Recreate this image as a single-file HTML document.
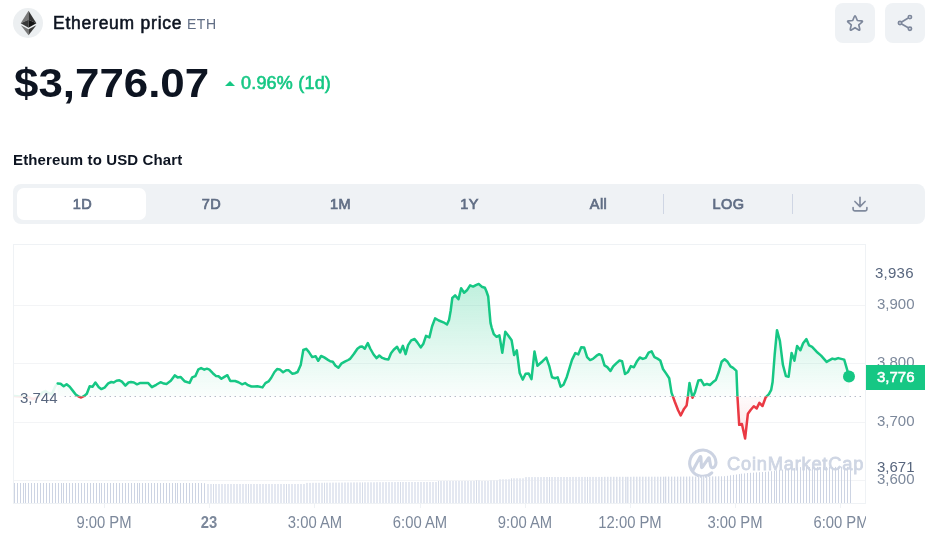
<!DOCTYPE html>
<html><head><meta charset="utf-8"><title>Ethereum price</title>
<style>
html,body{margin:0;padding:0;background:#fff;}
body{width:934px;height:535px;position:relative;overflow:hidden;font-family:"Liberation Sans",Arial,sans-serif;color:#0d1421;}
.abs{position:absolute;white-space:nowrap;line-height:1;will-change:transform;}
#ethc{left:12.8px;top:7.8px;width:30.4px;height:30.3px;border-radius:50%;background:#eceff1;}
#name{left:53px;top:15.3px;font-size:17.5px;font-weight:400;color:#0d1421;letter-spacing:0.76px;-webkit-text-stroke:0.55px #0d1421;}
#sym{left:186.8px;top:17px;font-size:14px;color:#616e85;letter-spacing:0.5px;}
.btn{top:3px;width:40px;height:40px;border-radius:8px;background:#eff2f5;}
#price{left:14.1px;top:63.4px;font-size:41px;font-weight:700;color:#0d1421;transform-origin:0 0;transform:scaleX(1.07);}
#chg{left:240.6px;top:74px;font-size:18px;font-weight:400;color:#16c784;letter-spacing:0.2px;-webkit-text-stroke:0.6px #16c784;}
#tri{left:224.6px;top:80.9px;width:0;height:0;border-left:5.3px solid transparent;border-right:5.3px solid transparent;border-bottom:5.8px solid #16c784;}
#ttl{left:13.3px;top:152.3px;font-size:15px;font-weight:700;color:#0d1421;letter-spacing:0.13px;}
#tabs{left:13px;top:184px;width:912px;height:40px;border-radius:8px;background:#eff2f5;}
#act{left:17px;top:188px;width:129px;height:32px;border-radius:7px;background:#fff;}
.tab{top:196.6px;width:129px;text-align:center;font-size:14.5px;font-weight:400;color:#616e85;-webkit-text-stroke:0.7px #616e85;letter-spacing:0.4px;margin-left:0.8px;}
.sep{top:194px;width:1px;height:20px;background:#cfd6e4;}
.ax{font-size:15px;color:#7c889b;}
.xl{top:516.4px;transform:scaleY(1.08);transform-origin:50% 50%;font-size:14.8px;color:#7c889b;width:80px;text-align:center;}
</style></head><body>
<div class="abs" id="ethc"></div>
<svg class="abs" style="left:13px;top:8px" width="30" height="30" viewBox="13 8 30 30">
<polygon points="28.5,10.8 20.7,23.3 28.5,19.7" fill="#787878"/>
<polygon points="28.5,10.8 36.4,23.3 28.5,19.7" fill="#343434"/>
<polygon points="20.7,23.3 28.5,19.7 28.5,27.8" fill="#393939"/>
<polygon points="36.4,23.3 28.5,19.7 28.5,27.8" fill="#141414"/>
<polygon points="20.9,25.2 28.5,29.3 28.5,35.3" fill="#787878"/>
<polygon points="36.3,25.2 28.5,29.3 28.5,35.3" fill="#3c3c3b"/>
</svg>
<div class="abs" id="name">Ethereum price</div>
<div class="abs" id="sym">ETH</div>
<div class="abs btn" style="left:835px"></div>
<div class="abs btn" style="left:885px"></div>
<svg class="abs" style="left:835px;top:3px" width="90" height="40" viewBox="835 3 90 40" fill="none" stroke="#7d879b" stroke-width="1.65" stroke-linejoin="round" stroke-linecap="round">
<path d="M854.16,16.98 Q855.03,14.85 855.90,16.98 L857.35,20.55 L861.20,20.83 Q863.49,21.00 861.74,22.48 L858.79,24.97 L859.71,28.72 Q860.26,30.95 858.31,29.74 L855.03,27.70 L851.75,29.74 Q849.80,30.95 850.35,28.72 L851.27,24.97 L848.32,22.48 Q846.57,21.00 848.86,20.83 L852.71,20.55 Z"/>
<circle cx="909.9" cy="17.1" r="1.65"/><circle cx="900" cy="23" r="1.65"/><circle cx="909.9" cy="28.75" r="1.65"/>
<path d="M902.06,21.77 L907.84,18.33 M902.08,24.2 L907.82,27.55"/>
</svg>
<div class="abs" id="price">$3,776.07</div>
<div class="abs" id="tri"></div>
<div class="abs" id="chg">0.96% (1d)</div>
<div class="abs" id="ttl">Ethereum to USD Chart</div>
<div class="abs" id="tabs"></div>
<div class="abs" id="act"></div>
<div class="abs tab" style="left:17px">1D</div>
<div class="abs tab" style="left:146px">7D</div>
<div class="abs tab" style="left:275px">1M</div>
<div class="abs tab" style="left:404px">1Y</div>
<div class="abs tab" style="left:533px">All</div>
<div class="abs tab" style="left:663px">LOG</div>
<div class="abs sep" style="left:663px"></div>
<div class="abs sep" style="left:792px"></div>
<svg class="abs" style="left:850px;top:194px" width="20" height="20" viewBox="850 194 20 20" fill="none" stroke="#808a9d" stroke-width="1.65" stroke-linecap="round" stroke-linejoin="round">
<path d="M860,197.2 V206.3 M854.9,201.5 L860,206.6 L865.1,201.5 M853.1,207.6 V209.2 Q853.1,210.8 854.7,210.8 H865.3 Q866.9,210.8 866.9,209.2 V207.6"/>
</svg>
<svg class="abs" style="left:0;top:240px" width="934" height="295" viewBox="0 240 934 295">
<defs>
<linearGradient id="gg" x1="0" y1="244" x2="0" y2="396.4" gradientUnits="userSpaceOnUse"><stop offset="0" stop-color="#16c784" stop-opacity="0.36"/><stop offset="1" stop-color="#16c784" stop-opacity="0.02"/></linearGradient>
<linearGradient id="rg" x1="0" y1="396.4" x2="0" y2="504" gradientUnits="userSpaceOnUse"><stop offset="0" stop-color="#ea3943" stop-opacity="0.02"/><stop offset="1" stop-color="#ea3943" stop-opacity="0.32"/></linearGradient>
<clipPath id="cu"><rect x="14" y="240" width="920" height="156.39999999999998"/></clipPath>
<clipPath id="cd"><rect x="14" y="396.4" width="920" height="140"/></clipPath>
</defs>
<g fill="#f3f4f6">
<rect x="13" y="305" width="853" height="1"/><rect x="13" y="363" width="853" height="1"/><rect x="13" y="422" width="853" height="1"/><rect x="13" y="480" width="853" height="1"/>
</g>
<rect x="13.5" y="244.5" width="852" height="259" fill="none" stroke="#eff2f5" stroke-width="1"/>
<g fill="#eff2f5"><rect x="104" y="504" width="1" height="4"/><rect x="209" y="504" width="1" height="4"/><rect x="314" y="504" width="1" height="4"/><rect x="420" y="504" width="1" height="4"/><rect x="525" y="504" width="1" height="4"/><rect x="630" y="504" width="1" height="4"/><rect x="735" y="504" width="1" height="4"/><rect x="840" y="504" width="1" height="4"/></g>
<g fill="none" stroke="#ccd3e2" stroke-width="3.1" stroke-linecap="round" stroke-linejoin="round" transform="translate(0,-0.3)">
<path d="M711.8,473.1 A13.16,13.16 0 1 1 715.97,462.8 C716,466 714,468.3 712.4,468 C711,467.7 710.6,466.5 710.4,465 L709.3,458.6 Q709.1,457.4 708.3,458.6 L702.4,467.4 Q701.5,468.6 701.4,467 L700.9,457.6 Q700.7,456.2 699.9,457.6 L693.1,470.3"/>
</g>
<text x="727" y="469.7" font-size="18.3px" font-weight="400" fill="#cfd6e4" stroke="#cfd6e4" stroke-width="0.8" textLength="136.3" lengthAdjust="spacing" font-family="Liberation Sans, Arial, sans-serif">CoinMarketCap</text>
<g><rect x="14" y="483.0" width="1" height="20.0" fill="#cdd4e3"/><rect x="17" y="483.0" width="1" height="20.0" fill="#cdd4e3"/><rect x="20" y="483.0" width="1" height="20.0" fill="#cdd4e3"/><rect x="23" y="483.0" width="1" height="20.0" fill="#cdd4e3"/><rect x="25" y="483.0" width="1" height="20.0" fill="#cdd4e3"/><rect x="28" y="483.0" width="1" height="20.0" fill="#cdd4e3"/><rect x="31" y="483.0" width="1" height="20.0" fill="#cdd4e3"/><rect x="34" y="483.0" width="1" height="20.0" fill="#cdd4e3"/><rect x="37" y="483.0" width="1" height="20.0" fill="#cdd4e3"/><rect x="40" y="483.0" width="1" height="20.0" fill="#cdd4e3"/><rect x="43" y="483.0" width="1" height="20.0" fill="#cdd4e3"/><rect x="46" y="483.0" width="1" height="20.0" fill="#cdd4e3"/><rect x="49" y="483.0" width="1" height="20.0" fill="#cdd4e3"/><rect x="52" y="483.0" width="1" height="20.0" fill="#cdd4e3"/><rect x="55" y="483.0" width="1" height="20.0" fill="#cdd4e3"/><rect x="58" y="483.0" width="1" height="20.0" fill="#cdd4e3"/><rect x="61" y="483.0" width="1" height="20.0" fill="#cdd4e3"/><rect x="63" y="483.0" width="1" height="20.0" fill="#cdd4e3"/><rect x="66" y="483.0" width="1" height="20.0" fill="#cdd4e3"/><rect x="69" y="483.0" width="1" height="20.0" fill="#cdd4e3"/><rect x="72" y="483.0" width="1" height="20.0" fill="#cdd4e3"/><rect x="75" y="483.0" width="1" height="20.0" fill="#cdd4e3"/><rect x="78" y="483.0" width="1" height="20.0" fill="#cdd4e3"/><rect x="81" y="483.0" width="1" height="20.0" fill="#cdd4e3"/><rect x="84" y="483.0" width="1" height="20.0" fill="#cdd4e3"/><rect x="87" y="483.0" width="1" height="20.0" fill="#cdd4e3"/><rect x="90" y="483.0" width="1" height="20.0" fill="#cdd4e3"/><rect x="93" y="483.0" width="1" height="20.0" fill="#cdd4e3"/><rect x="96" y="483.0" width="1" height="20.0" fill="#cdd4e3"/><rect x="99" y="483.0" width="1" height="20.0" fill="#cdd4e3"/><rect x="101" y="483.0" width="1" height="20.0" fill="#cdd4e3"/><rect x="104" y="483.0" width="1" height="20.0" fill="#cdd4e3"/><rect x="107" y="483.0" width="1" height="20.0" fill="#cdd4e3"/><rect x="110" y="483.0" width="1" height="20.0" fill="#cdd4e3"/><rect x="113" y="483.0" width="1" height="20.0" fill="#cdd4e3"/><rect x="116" y="483.0" width="1" height="20.0" fill="#cdd4e3"/><rect x="119" y="483.0" width="1" height="20.0" fill="#cdd4e3"/><rect x="122" y="483.0" width="1" height="20.0" fill="#cdd4e3"/><rect x="125" y="483.0" width="1" height="20.0" fill="#cdd4e3"/><rect x="128" y="483.0" width="1" height="20.0" fill="#cdd4e3"/><rect x="131" y="483.0" width="1" height="20.0" fill="#cdd4e3"/><rect x="134" y="483.0" width="1" height="20.0" fill="#cdd4e3"/><rect x="137" y="483.0" width="1" height="20.0" fill="#cdd4e3"/><rect x="139" y="483.0" width="1" height="20.0" fill="#cdd4e3"/><rect x="142" y="483.0" width="1" height="20.0" fill="#cdd4e3"/><rect x="145" y="483.0" width="1" height="20.0" fill="#cdd4e3"/><rect x="148" y="483.0" width="1" height="20.0" fill="#cdd4e3"/><rect x="151" y="483.0" width="1" height="20.0" fill="#cdd4e3"/><rect x="154" y="483.0" width="1" height="20.0" fill="#cdd4e3"/><rect x="157" y="483.0" width="1" height="20.0" fill="#cdd4e3"/><rect x="160" y="483.0" width="1" height="20.0" fill="#cdd4e3"/><rect x="163" y="483.0" width="1" height="20.0" fill="#cdd4e3"/><rect x="166" y="483.0" width="1" height="20.0" fill="#cdd4e3"/><rect x="169" y="483.0" width="1" height="20.0" fill="#cdd4e3"/><rect x="172" y="483.0" width="1" height="20.0" fill="#cdd4e3"/><rect x="175" y="483.0" width="1" height="20.0" fill="#cdd4e3"/><rect x="177" y="483.0" width="1" height="20.0" fill="#cdd4e3"/><rect x="180" y="483.0" width="1" height="20.0" fill="#cdd4e3"/><rect x="183" y="483.0" width="1" height="20.0" fill="#cdd4e3"/><rect x="186" y="483.0" width="1" height="20.0" fill="#cdd4e3"/><rect x="189" y="483.0" width="1" height="20.0" fill="#cdd4e3"/><rect x="192" y="483.0" width="1" height="20.0" fill="#cdd4e3"/><rect x="195" y="483.0" width="1" height="20.0" fill="#cdd4e3"/><rect x="198" y="483.0" width="1" height="20.0" fill="#cdd4e3"/><rect x="201" y="483.0" width="1" height="20.0" fill="#cdd4e3"/><rect x="204" y="483.2" width="1" height="19.8" fill="#cdd4e3"/><rect x="207" y="484.0" width="2" height="19.0" fill="#e4e8f1"/><rect x="210" y="484.0" width="2" height="19.0" fill="#e4e8f1"/><rect x="213" y="484.0" width="1" height="19.0" fill="#d6dce8"/><rect x="215" y="484.0" width="2" height="19.0" fill="#e4e8f1"/><rect x="218" y="484.0" width="2" height="19.0" fill="#e4e8f1"/><rect x="221" y="484.0" width="2" height="19.0" fill="#e4e8f1"/><rect x="224" y="484.0" width="2" height="19.0" fill="#e4e8f1"/><rect x="227" y="484.0" width="2" height="19.0" fill="#e4e8f1"/><rect x="230" y="484.0" width="2" height="19.0" fill="#e4e8f1"/><rect x="233" y="484.0" width="2" height="19.0" fill="#e4e8f1"/><rect x="236" y="484.0" width="2" height="19.0" fill="#e4e8f1"/><rect x="239" y="484.0" width="2" height="19.0" fill="#e4e8f1"/><rect x="242" y="484.0" width="2" height="19.0" fill="#e4e8f1"/><rect x="245" y="484.0" width="2" height="19.0" fill="#e4e8f1"/><rect x="248" y="484.0" width="1" height="19.0" fill="#d6dce8"/><rect x="250" y="484.0" width="2" height="19.0" fill="#e4e8f1"/><rect x="253" y="484.0" width="2" height="19.0" fill="#e4e8f1"/><rect x="256" y="484.0" width="2" height="19.0" fill="#e4e8f1"/><rect x="259" y="484.0" width="2" height="19.0" fill="#e4e8f1"/><rect x="262" y="484.0" width="2" height="19.0" fill="#e4e8f1"/><rect x="265" y="484.0" width="2" height="19.0" fill="#e4e8f1"/><rect x="268" y="484.0" width="2" height="19.0" fill="#e4e8f1"/><rect x="271" y="484.0" width="2" height="19.0" fill="#e4e8f1"/><rect x="274" y="484.0" width="2" height="19.0" fill="#e4e8f1"/><rect x="277" y="484.0" width="2" height="19.0" fill="#e4e8f1"/><rect x="280" y="484.0" width="2" height="19.0" fill="#e4e8f1"/><rect x="283" y="484.0" width="2" height="19.0" fill="#e4e8f1"/><rect x="286" y="484.0" width="1" height="19.0" fill="#d6dce8"/><rect x="288" y="484.0" width="2" height="19.0" fill="#e4e8f1"/><rect x="291" y="484.0" width="2" height="19.0" fill="#e4e8f1"/><rect x="294" y="484.0" width="2" height="19.0" fill="#e4e8f1"/><rect x="297" y="484.0" width="2" height="19.0" fill="#e4e8f1"/><rect x="300" y="484.0" width="2" height="19.0" fill="#e4e8f1"/><rect x="303" y="484.0" width="2" height="19.0" fill="#e4e8f1"/><rect x="306" y="482.9" width="2" height="20.1" fill="#e4e8f1"/><rect x="309" y="482.9" width="2" height="20.1" fill="#e4e8f1"/><rect x="312" y="482.8" width="2" height="20.2" fill="#e4e8f1"/><rect x="315" y="482.8" width="2" height="20.2" fill="#e4e8f1"/><rect x="318" y="482.8" width="2" height="20.2" fill="#e4e8f1"/><rect x="321" y="482.8" width="2" height="20.2" fill="#e4e8f1"/><rect x="324" y="482.7" width="1" height="20.3" fill="#d6dce8"/><rect x="326" y="482.7" width="2" height="20.3" fill="#e4e8f1"/><rect x="329" y="482.7" width="2" height="20.3" fill="#e4e8f1"/><rect x="332" y="482.6" width="2" height="20.4" fill="#e4e8f1"/><rect x="335" y="482.6" width="2" height="20.4" fill="#e4e8f1"/><rect x="338" y="482.6" width="2" height="20.4" fill="#e4e8f1"/><rect x="341" y="482.6" width="2" height="20.4" fill="#e4e8f1"/><rect x="344" y="482.5" width="2" height="20.5" fill="#e4e8f1"/><rect x="347" y="482.5" width="2" height="20.5" fill="#e4e8f1"/><rect x="350" y="482.5" width="2" height="20.5" fill="#e4e8f1"/><rect x="353" y="482.4" width="2" height="20.6" fill="#e4e8f1"/><rect x="356" y="482.4" width="2" height="20.6" fill="#e4e8f1"/><rect x="359" y="482.4" width="2" height="20.6" fill="#e4e8f1"/><rect x="362" y="482.4" width="1" height="20.6" fill="#d6dce8"/><rect x="364" y="482.3" width="2" height="20.7" fill="#e4e8f1"/><rect x="367" y="482.3" width="2" height="20.7" fill="#e4e8f1"/><rect x="370" y="482.3" width="2" height="20.7" fill="#e4e8f1"/><rect x="373" y="482.3" width="2" height="20.7" fill="#e4e8f1"/><rect x="376" y="482.2" width="2" height="20.8" fill="#e4e8f1"/><rect x="379" y="482.2" width="2" height="20.8" fill="#e4e8f1"/><rect x="382" y="482.2" width="2" height="20.8" fill="#e4e8f1"/><rect x="385" y="482.1" width="2" height="20.9" fill="#e4e8f1"/><rect x="388" y="482.1" width="2" height="20.9" fill="#e4e8f1"/><rect x="391" y="482.1" width="2" height="20.9" fill="#e4e8f1"/><rect x="394" y="482.1" width="2" height="20.9" fill="#e4e8f1"/><rect x="397" y="482.0" width="2" height="21.0" fill="#e4e8f1"/><rect x="400" y="482.0" width="1" height="21.0" fill="#d6dce8"/><rect x="402" y="482.0" width="2" height="21.0" fill="#e4e8f1"/><rect x="405" y="482.0" width="2" height="21.0" fill="#e4e8f1"/><rect x="408" y="482.0" width="2" height="21.0" fill="#e4e8f1"/><rect x="411" y="482.0" width="2" height="21.0" fill="#e4e8f1"/><rect x="414" y="482.0" width="2" height="21.0" fill="#e4e8f1"/><rect x="417" y="482.0" width="2" height="21.0" fill="#e4e8f1"/><rect x="420" y="482.0" width="2" height="21.0" fill="#e4e8f1"/><rect x="423" y="482.0" width="2" height="21.0" fill="#e4e8f1"/><rect x="426" y="482.0" width="2" height="21.0" fill="#e4e8f1"/><rect x="429" y="482.0" width="2" height="21.0" fill="#e4e8f1"/><rect x="432" y="482.0" width="2" height="21.0" fill="#e4e8f1"/><rect x="435" y="482.0" width="2" height="21.0" fill="#e4e8f1"/><rect x="438" y="481.0" width="1" height="22.0" fill="#d6dce8"/><rect x="440" y="481.0" width="2" height="22.0" fill="#e4e8f1"/><rect x="443" y="481.0" width="2" height="22.0" fill="#e4e8f1"/><rect x="446" y="481.0" width="2" height="22.0" fill="#e4e8f1"/><rect x="449" y="481.0" width="2" height="22.0" fill="#e4e8f1"/><rect x="452" y="481.0" width="2" height="22.0" fill="#e4e8f1"/><rect x="455" y="481.0" width="2" height="22.0" fill="#e4e8f1"/><rect x="458" y="481.0" width="2" height="22.0" fill="#e4e8f1"/><rect x="461" y="481.0" width="2" height="22.0" fill="#e4e8f1"/><rect x="464" y="481.0" width="2" height="22.0" fill="#e4e8f1"/><rect x="467" y="481.0" width="2" height="22.0" fill="#e4e8f1"/><rect x="470" y="481.0" width="2" height="22.0" fill="#e4e8f1"/><rect x="473" y="481.0" width="2" height="22.0" fill="#e4e8f1"/><rect x="476" y="480.3" width="1" height="22.7" fill="#d6dce8"/><rect x="478" y="480.3" width="2" height="22.7" fill="#e4e8f1"/><rect x="481" y="481.0" width="2" height="22.0" fill="#e4e8f1"/><rect x="484" y="481.0" width="2" height="22.0" fill="#e4e8f1"/><rect x="487" y="481.0" width="2" height="22.0" fill="#e4e8f1"/><rect x="490" y="480.3" width="2" height="22.7" fill="#e4e8f1"/><rect x="493" y="480.3" width="2" height="22.7" fill="#e4e8f1"/><rect x="496" y="480.3" width="2" height="22.7" fill="#e4e8f1"/><rect x="499" y="479.3" width="2" height="23.7" fill="#e4e8f1"/><rect x="502" y="479.3" width="2" height="23.7" fill="#e4e8f1"/><rect x="505" y="479.3" width="2" height="23.7" fill="#e4e8f1"/><rect x="508" y="479.3" width="2" height="23.7" fill="#e4e8f1"/><rect x="511" y="478.3" width="1" height="24.7" fill="#d6dce8"/><rect x="513" y="478.3" width="2" height="24.7" fill="#e4e8f1"/><rect x="516" y="478.3" width="2" height="24.7" fill="#e4e8f1"/><rect x="519" y="478.3" width="2" height="24.7" fill="#e4e8f1"/><rect x="522" y="478.3" width="2" height="24.7" fill="#e4e8f1"/><rect x="525" y="477.1" width="2" height="25.9" fill="#e4e8f1"/><rect x="528" y="477.1" width="2" height="25.9" fill="#e4e8f1"/><rect x="531" y="477.1" width="2" height="25.9" fill="#e4e8f1"/><rect x="534" y="477.1" width="2" height="25.9" fill="#e4e8f1"/><rect x="537" y="477.1" width="2" height="25.9" fill="#e4e8f1"/><rect x="540" y="477.1" width="2" height="25.9" fill="#e4e8f1"/><rect x="543" y="477.0" width="2" height="26.0" fill="#e4e8f1"/><rect x="546" y="477.0" width="2" height="26.0" fill="#e4e8f1"/><rect x="549" y="477.0" width="1" height="26.0" fill="#d6dce8"/><rect x="551" y="477.0" width="2" height="26.0" fill="#e4e8f1"/><rect x="554" y="477.0" width="2" height="26.0" fill="#e4e8f1"/><rect x="557" y="477.0" width="2" height="26.0" fill="#e4e8f1"/><rect x="560" y="477.0" width="2" height="26.0" fill="#e4e8f1"/><rect x="563" y="477.0" width="2" height="26.0" fill="#e4e8f1"/><rect x="566" y="477.0" width="2" height="26.0" fill="#e4e8f1"/><rect x="569" y="477.0" width="2" height="26.0" fill="#e4e8f1"/><rect x="572" y="476.9" width="2" height="26.1" fill="#e4e8f1"/><rect x="575" y="476.9" width="2" height="26.1" fill="#e4e8f1"/><rect x="578" y="476.9" width="2" height="26.1" fill="#e4e8f1"/><rect x="581" y="476.9" width="2" height="26.1" fill="#e4e8f1"/><rect x="584" y="476.9" width="2" height="26.1" fill="#e4e8f1"/><rect x="587" y="476.9" width="1" height="26.1" fill="#d6dce8"/><rect x="589" y="476.9" width="2" height="26.1" fill="#e4e8f1"/><rect x="592" y="476.9" width="2" height="26.1" fill="#e4e8f1"/><rect x="595" y="476.9" width="2" height="26.1" fill="#e4e8f1"/><rect x="598" y="476.9" width="2" height="26.1" fill="#e4e8f1"/><rect x="601" y="476.9" width="1" height="26.1" fill="#dbe0eb"/><rect x="602" y="476.9" width="1" height="26.1" fill="#ebeef4"/><rect x="604" y="476.8" width="1" height="26.2" fill="#dbe0eb"/><rect x="605" y="476.8" width="1" height="26.2" fill="#ebeef4"/><rect x="607" y="476.8" width="1" height="26.2" fill="#dbe0eb"/><rect x="608" y="476.8" width="1" height="26.2" fill="#ebeef4"/><rect x="610" y="476.8" width="1" height="26.2" fill="#dbe0eb"/><rect x="611" y="476.8" width="1" height="26.2" fill="#ebeef4"/><rect x="613" y="476.8" width="1" height="26.2" fill="#dbe0eb"/><rect x="614" y="476.8" width="1" height="26.2" fill="#ebeef4"/><rect x="616" y="476.8" width="1" height="26.2" fill="#dbe0eb"/><rect x="617" y="476.8" width="1" height="26.2" fill="#ebeef4"/><rect x="619" y="476.8" width="1" height="26.2" fill="#dbe0eb"/><rect x="620" y="476.8" width="1" height="26.2" fill="#ebeef4"/><rect x="622" y="476.8" width="1" height="26.2" fill="#dbe0eb"/><rect x="623" y="476.8" width="1" height="26.2" fill="#ebeef4"/><rect x="625" y="476.8" width="1" height="26.2" fill="#dbe0eb"/><rect x="626" y="476.8" width="1" height="26.2" fill="#ebeef4"/><rect x="627" y="476.8" width="1" height="26.2" fill="#dbe0eb"/><rect x="628" y="476.8" width="1" height="26.2" fill="#ebeef4"/><rect x="630" y="476.8" width="1" height="26.2" fill="#dbe0eb"/><rect x="631" y="476.8" width="1" height="26.2" fill="#ebeef4"/><rect x="633" y="476.7" width="1" height="26.3" fill="#dbe0eb"/><rect x="634" y="476.7" width="1" height="26.3" fill="#ebeef4"/><rect x="636" y="476.7" width="1" height="26.3" fill="#dbe0eb"/><rect x="637" y="476.7" width="1" height="26.3" fill="#ebeef4"/><rect x="639" y="476.7" width="1" height="26.3" fill="#dbe0eb"/><rect x="640" y="476.7" width="1" height="26.3" fill="#ebeef4"/><rect x="642" y="476.7" width="1" height="26.3" fill="#dbe0eb"/><rect x="643" y="476.7" width="1" height="26.3" fill="#ebeef4"/><rect x="645" y="476.7" width="1" height="26.3" fill="#dbe0eb"/><rect x="646" y="476.7" width="1" height="26.3" fill="#ebeef4"/><rect x="648" y="476.7" width="1" height="26.3" fill="#dbe0eb"/><rect x="649" y="476.7" width="1" height="26.3" fill="#ebeef4"/><rect x="651" y="476.7" width="1" height="26.3" fill="#dbe0eb"/><rect x="652" y="476.7" width="1" height="26.3" fill="#ebeef4"/><rect x="654" y="476.7" width="1" height="26.3" fill="#dbe0eb"/><rect x="655" y="476.7" width="1" height="26.3" fill="#ebeef4"/><rect x="657" y="476.7" width="1" height="26.3" fill="#dbe0eb"/><rect x="658" y="476.7" width="1" height="26.3" fill="#ebeef4"/><rect x="660" y="476.7" width="1" height="26.3" fill="#d3d9e6"/><rect x="661" y="476.7" width="1" height="26.3" fill="#f3f5f9"/><rect x="663" y="476.7" width="1" height="26.3" fill="#d3d9e6"/><rect x="664" y="476.7" width="1" height="26.3" fill="#f3f5f9"/><rect x="665" y="476.6" width="1" height="26.4" fill="#d3d9e6"/><rect x="666" y="476.6" width="1" height="26.4" fill="#f3f5f9"/><rect x="668" y="476.6" width="1" height="26.4" fill="#d3d9e6"/><rect x="669" y="476.6" width="1" height="26.4" fill="#f3f5f9"/><rect x="671" y="476.6" width="1" height="26.4" fill="#d3d9e6"/><rect x="672" y="476.6" width="1" height="26.4" fill="#f3f5f9"/><rect x="674" y="476.6" width="1" height="26.4" fill="#d3d9e6"/><rect x="675" y="476.6" width="1" height="26.4" fill="#f3f5f9"/><rect x="677" y="476.6" width="1" height="26.4" fill="#d3d9e6"/><rect x="678" y="476.6" width="1" height="26.4" fill="#f3f5f9"/><rect x="680" y="476.6" width="1" height="26.4" fill="#d3d9e6"/><rect x="681" y="476.6" width="1" height="26.4" fill="#f3f5f9"/><rect x="683" y="476.6" width="1" height="26.4" fill="#d3d9e6"/><rect x="684" y="476.6" width="1" height="26.4" fill="#f3f5f9"/><rect x="686" y="476.6" width="1" height="26.4" fill="#d3d9e6"/><rect x="687" y="476.6" width="1" height="26.4" fill="#f3f5f9"/><rect x="689" y="476.5" width="1" height="26.5" fill="#d3d9e6"/><rect x="690" y="476.5" width="1" height="26.5" fill="#f3f5f9"/><rect x="692" y="476.5" width="1" height="26.5" fill="#d3d9e6"/><rect x="693" y="476.5" width="1" height="26.5" fill="#f3f5f9"/><rect x="695" y="476.5" width="1" height="26.5" fill="#d3d9e6"/><rect x="696" y="476.5" width="1" height="26.5" fill="#f3f5f9"/><rect x="698" y="476.5" width="1" height="26.5" fill="#d3d9e6"/><rect x="699" y="476.5" width="1" height="26.5" fill="#f3f5f9"/><rect x="701" y="476.5" width="1" height="26.5" fill="#d3d9e6"/><rect x="702" y="476.5" width="1" height="26.5" fill="#f3f5f9"/><rect x="703" y="476.4" width="1" height="26.6" fill="#d3d9e6"/><rect x="704" y="476.4" width="1" height="26.6" fill="#f3f5f9"/><rect x="706" y="476.4" width="1" height="26.6" fill="#d3d9e6"/><rect x="707" y="476.4" width="1" height="26.6" fill="#f3f5f9"/><rect x="709" y="476.4" width="1" height="26.6" fill="#d3d9e6"/><rect x="710" y="476.4" width="1" height="26.6" fill="#f3f5f9"/><rect x="712" y="476.4" width="1" height="26.6" fill="#d3d9e6"/><rect x="713" y="476.4" width="1" height="26.6" fill="#f3f5f9"/><rect x="715" y="476.4" width="1" height="26.6" fill="#d3d9e6"/><rect x="716" y="476.4" width="1" height="26.6" fill="#f3f5f9"/><rect x="718" y="476.3" width="1" height="26.7" fill="#d3d9e6"/><rect x="719" y="476.3" width="1" height="26.7" fill="#f3f5f9"/><rect x="721" y="476.3" width="1" height="26.7" fill="#cdd4e3"/><rect x="724" y="476.2" width="1" height="26.8" fill="#cdd4e3"/><rect x="727" y="475.8" width="1" height="27.2" fill="#cdd4e3"/><rect x="730" y="475.3" width="1" height="27.7" fill="#cdd4e3"/><rect x="733" y="474.9" width="1" height="28.1" fill="#cdd4e3"/><rect x="736" y="474.5" width="1" height="28.5" fill="#cdd4e3"/><rect x="739" y="474.1" width="1" height="28.9" fill="#cdd4e3"/><rect x="741" y="473.7" width="1" height="29.3" fill="#cdd4e3"/><rect x="744" y="473.4" width="1" height="29.6" fill="#cdd4e3"/><rect x="747" y="473.0" width="1" height="30.0" fill="#cdd4e3"/><rect x="750" y="472.8" width="1" height="30.2" fill="#cdd4e3"/><rect x="753" y="472.6" width="1" height="30.4" fill="#cdd4e3"/><rect x="756" y="472.4" width="1" height="30.6" fill="#cdd4e3"/><rect x="759" y="472.2" width="1" height="30.8" fill="#cdd4e3"/><rect x="762" y="472.0" width="1" height="31.0" fill="#cdd4e3"/><rect x="765" y="471.8" width="1" height="31.2" fill="#cdd4e3"/><rect x="768" y="471.5" width="1" height="31.5" fill="#cdd4e3"/><rect x="771" y="471.2" width="1" height="31.8" fill="#cdd4e3"/><rect x="774" y="470.8" width="1" height="32.2" fill="#cdd4e3"/><rect x="776" y="470.3" width="1" height="32.7" fill="#cdd4e3"/><rect x="779" y="469.9" width="1" height="33.1" fill="#cdd4e3"/><rect x="782" y="469.6" width="1" height="33.4" fill="#cdd4e3"/><rect x="785" y="469.2" width="1" height="33.8" fill="#cdd4e3"/><rect x="788" y="468.8" width="1" height="34.2" fill="#cdd4e3"/><rect x="791" y="468.4" width="1" height="34.6" fill="#cdd4e3"/><rect x="794" y="468.0" width="1" height="35.0" fill="#cdd4e3"/><rect x="797" y="467.5" width="1" height="35.5" fill="#cdd4e3"/><rect x="800" y="467.1" width="1" height="35.9" fill="#cdd4e3"/><rect x="803" y="467.0" width="1" height="36.0" fill="#cdd4e3"/><rect x="806" y="467.0" width="1" height="36.0" fill="#cdd4e3"/><rect x="809" y="467.0" width="1" height="36.0" fill="#cdd4e3"/><rect x="812" y="467.0" width="1" height="36.0" fill="#cdd4e3"/><rect x="814" y="466.9" width="1" height="36.1" fill="#cdd4e3"/><rect x="817" y="466.9" width="1" height="36.1" fill="#cdd4e3"/><rect x="820" y="466.9" width="1" height="36.1" fill="#cdd4e3"/><rect x="823" y="466.9" width="1" height="36.1" fill="#cdd4e3"/><rect x="826" y="466.9" width="1" height="36.1" fill="#cdd4e3"/><rect x="829" y="466.9" width="1" height="36.1" fill="#cdd4e3"/><rect x="832" y="466.9" width="1" height="36.1" fill="#cdd4e3"/><rect x="835" y="466.9" width="1" height="36.1" fill="#cdd4e3"/><rect x="838" y="466.9" width="1" height="36.1" fill="#cdd4e3"/><rect x="841" y="466.8" width="1" height="36.2" fill="#cdd4e3"/><rect x="844" y="466.8" width="1" height="36.2" fill="#cdd4e3"/><rect x="847" y="466.8" width="1" height="36.2" fill="#cdd4e3"/><rect x="850" y="466.8" width="1" height="36.2" fill="#cdd4e3"/></g>
<path d="M57.7,383.4 L60.6,383.7 L63.7,386.3 L66.6,384.3 L69.7,386.8 L73.1,391.1 L75.7,394.5 L78.3,396.3 L81.2,397.5 L84.3,395.9 L86.8,393.7 L89.7,386.3 L92.5,386.8 L95.4,382.5 L98.8,387.3 L101.4,389.1 L104.5,387.7 L108.2,383.4 L111.3,382.0 L113.7,382.5 L116.5,380.8 L119.4,380.3 L121.9,381.7 L125.4,385.6 L128.5,382.5 L130.9,382.0 L133.9,382.5 L137.0,384.3 L140.4,382.9 L148.0,382.9 L151.9,387.2 L156.2,384.8 L160.5,382.2 L163.9,383.6 L166.5,383.9 L170.8,380.8 L174.7,375.4 L177.6,377.4 L180.5,376.9 L184.5,381.2 L189.6,382.9 L192.2,377.4 L195.3,376.2 L198.2,369.7 L201.1,368.0 L204.3,369.7 L206.9,368.7 L209.4,369.7 L212.8,373.2 L215.8,375.9 L218.5,376.3 L221.4,378.8 L224.8,376.6 L227.4,375.2 L230.3,381.0 L235.1,381.0 L238.5,382.2 L242.0,384.3 L245.1,383.1 L248.0,385.2 L251.4,386.5 L254.5,386.5 L257.4,386.2 L262.5,387.4 L265.4,383.1 L268.5,381.4 L271.1,378.0 L274.5,372.0 L277.1,369.1 L279.7,369.4 L283.1,372.3 L286.2,370.3 L288.7,370.3 L292.2,373.7 L295.1,373.2 L297.6,372.0 L300.7,365.1 L303.3,350.0 L306.2,348.8 L308.8,351.9 L312.2,357.1 L315.6,356.2 L318.2,360.8 L321.1,356.0 L324.2,357.4 L327.6,359.6 L330.2,361.2 L332.8,361.7 L335.3,365.5 L338.4,367.7 L341.3,363.7 L344.8,361.7 L348.2,360.0 L350.0,358.9 L354.0,353.8 L357.4,348.7 L360.1,346.7 L362.1,346.4 L364.8,348.7 L367.8,343.1 L370.2,348.5 L373.6,354.5 L376.6,358.1 L379.3,355.5 L382.3,357.9 L385.3,359.0 L388.4,359.6 L391.0,353.2 L393.7,349.8 L397.1,346.8 L400.1,352.5 L402.9,345.8 L405.6,354.1 L408.1,345.1 L411.2,340.4 L414.6,339.0 L417.3,342.4 L420.7,347.4 L423.4,343.7 L426.0,335.9 L429.4,337.4 L432.1,326.2 L435.1,318.4 L438.8,320.5 L443.4,322.3 L447.0,324.5 L449.0,320.1 L450.7,310.5 L452.3,298.0 L455.1,295.4 L458.5,299.3 L461.1,288.3 L464.1,292.8 L466.9,290.3 L470.1,285.3 L473.1,286.6 L475.9,285.1 L478.7,283.9 L481.7,286.7 L484.9,287.8 L486.5,291.5 L488.2,296.5 L489.3,309.4 L490.5,322.9 L491.6,327.3 L493.8,334.1 L496.6,336.8 L499.4,335.4 L502.3,352.7 L505.3,331.8 L508.6,336.0 L511.6,340.3 L514.1,355.1 L516.8,350.4 L519.7,373.0 L522.7,379.6 L525.6,373.7 L528.6,373.4 L531.5,379.2 L534.5,351.4 L537.4,365.8 L542.6,361.2 L546.3,357.7 L549.2,365.8 L552.0,377.3 L555.0,378.3 L557.7,377.4 L560.6,386.7 L563.5,384.7 L566.8,376.9 L572.0,359.9 L575.3,353.1 L578.3,354.4 L581.2,347.2 L584.1,347.4 L587.1,357.2 L590.1,360.1 L592.9,358.9 L596.6,355.7 L599.2,354.2 L601.5,355.3 L604.5,365.4 L607.3,367.1 L610.4,371.0 L613.2,366.4 L616.5,363.1 L619.5,360.5 L622.1,361.2 L625.0,374.0 L628.0,371.9 L630.9,366.1 L633.9,367.3 L636.8,361.6 L639.8,357.5 L642.9,358.9 L645.7,357.9 L648.6,352.7 L651.6,351.4 L654.5,357.2 L657.5,358.6 L660.3,360.5 L663.0,369.0 L666.2,373.6 L669.2,378.2 L671.5,392.6 L674.8,401.7 L678.1,410.2 L680.7,415.5 L684.0,408.9 L686.6,405.6 L687.9,396.5 L689.5,383.0 L692.5,397.8 L695.1,391.9 L698.4,380.4 L701.0,379.9 L704.0,385.1 L706.9,384.0 L709.9,385.0 L712.8,382.3 L715.8,380.1 L718.7,372.3 L721.6,361.8 L724.6,359.2 L727.6,361.8 L730.5,366.4 L733.1,367.9 L736.4,370.9 L737.4,395.8 L739.2,424.8 L741.9,424.0 L745.1,438.6 L747.9,413.7 L750.6,410.0 L753.8,406.3 L756.7,408.4 L759.4,402.9 L762.5,406.0 L765.7,397.3 L768.9,394.1 L771.2,389.8 L772.6,382.0 L774.7,354.4 L777.0,330.2 L779.9,340.9 L782.9,364.8 L785.9,376.1 L788.6,376.8 L791.6,352.9 L794.4,360.7 L797.1,345.9 L800.4,350.3 L803.1,343.2 L806.4,339.1 L809.1,345.4 L812.1,346.9 L816.6,351.7 L821.1,355.6 L826.6,361.9 L832.3,358.6 L835.0,359.2 L838.2,358.1 L844.2,359.6 L849.0,376.1 L849.0,396.4 L57.7,396.4 Z" fill="url(#gg)" clip-path="url(#cu)"/>
<path d="M57.7,383.4 L60.6,383.7 L63.7,386.3 L66.6,384.3 L69.7,386.8 L73.1,391.1 L75.7,394.5 L78.3,396.3 L81.2,397.5 L84.3,395.9 L86.8,393.7 L89.7,386.3 L92.5,386.8 L95.4,382.5 L98.8,387.3 L101.4,389.1 L104.5,387.7 L108.2,383.4 L111.3,382.0 L113.7,382.5 L116.5,380.8 L119.4,380.3 L121.9,381.7 L125.4,385.6 L128.5,382.5 L130.9,382.0 L133.9,382.5 L137.0,384.3 L140.4,382.9 L148.0,382.9 L151.9,387.2 L156.2,384.8 L160.5,382.2 L163.9,383.6 L166.5,383.9 L170.8,380.8 L174.7,375.4 L177.6,377.4 L180.5,376.9 L184.5,381.2 L189.6,382.9 L192.2,377.4 L195.3,376.2 L198.2,369.7 L201.1,368.0 L204.3,369.7 L206.9,368.7 L209.4,369.7 L212.8,373.2 L215.8,375.9 L218.5,376.3 L221.4,378.8 L224.8,376.6 L227.4,375.2 L230.3,381.0 L235.1,381.0 L238.5,382.2 L242.0,384.3 L245.1,383.1 L248.0,385.2 L251.4,386.5 L254.5,386.5 L257.4,386.2 L262.5,387.4 L265.4,383.1 L268.5,381.4 L271.1,378.0 L274.5,372.0 L277.1,369.1 L279.7,369.4 L283.1,372.3 L286.2,370.3 L288.7,370.3 L292.2,373.7 L295.1,373.2 L297.6,372.0 L300.7,365.1 L303.3,350.0 L306.2,348.8 L308.8,351.9 L312.2,357.1 L315.6,356.2 L318.2,360.8 L321.1,356.0 L324.2,357.4 L327.6,359.6 L330.2,361.2 L332.8,361.7 L335.3,365.5 L338.4,367.7 L341.3,363.7 L344.8,361.7 L348.2,360.0 L350.0,358.9 L354.0,353.8 L357.4,348.7 L360.1,346.7 L362.1,346.4 L364.8,348.7 L367.8,343.1 L370.2,348.5 L373.6,354.5 L376.6,358.1 L379.3,355.5 L382.3,357.9 L385.3,359.0 L388.4,359.6 L391.0,353.2 L393.7,349.8 L397.1,346.8 L400.1,352.5 L402.9,345.8 L405.6,354.1 L408.1,345.1 L411.2,340.4 L414.6,339.0 L417.3,342.4 L420.7,347.4 L423.4,343.7 L426.0,335.9 L429.4,337.4 L432.1,326.2 L435.1,318.4 L438.8,320.5 L443.4,322.3 L447.0,324.5 L449.0,320.1 L450.7,310.5 L452.3,298.0 L455.1,295.4 L458.5,299.3 L461.1,288.3 L464.1,292.8 L466.9,290.3 L470.1,285.3 L473.1,286.6 L475.9,285.1 L478.7,283.9 L481.7,286.7 L484.9,287.8 L486.5,291.5 L488.2,296.5 L489.3,309.4 L490.5,322.9 L491.6,327.3 L493.8,334.1 L496.6,336.8 L499.4,335.4 L502.3,352.7 L505.3,331.8 L508.6,336.0 L511.6,340.3 L514.1,355.1 L516.8,350.4 L519.7,373.0 L522.7,379.6 L525.6,373.7 L528.6,373.4 L531.5,379.2 L534.5,351.4 L537.4,365.8 L542.6,361.2 L546.3,357.7 L549.2,365.8 L552.0,377.3 L555.0,378.3 L557.7,377.4 L560.6,386.7 L563.5,384.7 L566.8,376.9 L572.0,359.9 L575.3,353.1 L578.3,354.4 L581.2,347.2 L584.1,347.4 L587.1,357.2 L590.1,360.1 L592.9,358.9 L596.6,355.7 L599.2,354.2 L601.5,355.3 L604.5,365.4 L607.3,367.1 L610.4,371.0 L613.2,366.4 L616.5,363.1 L619.5,360.5 L622.1,361.2 L625.0,374.0 L628.0,371.9 L630.9,366.1 L633.9,367.3 L636.8,361.6 L639.8,357.5 L642.9,358.9 L645.7,357.9 L648.6,352.7 L651.6,351.4 L654.5,357.2 L657.5,358.6 L660.3,360.5 L663.0,369.0 L666.2,373.6 L669.2,378.2 L671.5,392.6 L674.8,401.7 L678.1,410.2 L680.7,415.5 L684.0,408.9 L686.6,405.6 L687.9,396.5 L689.5,383.0 L692.5,397.8 L695.1,391.9 L698.4,380.4 L701.0,379.9 L704.0,385.1 L706.9,384.0 L709.9,385.0 L712.8,382.3 L715.8,380.1 L718.7,372.3 L721.6,361.8 L724.6,359.2 L727.6,361.8 L730.5,366.4 L733.1,367.9 L736.4,370.9 L737.4,395.8 L739.2,424.8 L741.9,424.0 L745.1,438.6 L747.9,413.7 L750.6,410.0 L753.8,406.3 L756.7,408.4 L759.4,402.9 L762.5,406.0 L765.7,397.3 L768.9,394.1 L771.2,389.8 L772.6,382.0 L774.7,354.4 L777.0,330.2 L779.9,340.9 L782.9,364.8 L785.9,376.1 L788.6,376.8 L791.6,352.9 L794.4,360.7 L797.1,345.9 L800.4,350.3 L803.1,343.2 L806.4,339.1 L809.1,345.4 L812.1,346.9 L816.6,351.7 L821.1,355.6 L826.6,361.9 L832.3,358.6 L835.0,359.2 L838.2,358.1 L844.2,359.6 L849.0,376.1 L849.0,396.4 L57.7,396.4 Z" fill="url(#rg)" clip-path="url(#cd)"/>
<g fill="#959db0"><rect x="64.7" y="396" width="1" height="1"/><rect x="69.7" y="396" width="1" height="1"/><rect x="74.7" y="396" width="1" height="1"/><rect x="79.7" y="396" width="1" height="1"/><rect x="84.7" y="396" width="1" height="1"/><rect x="89.7" y="396" width="1" height="1"/><rect x="94.7" y="396" width="1" height="1"/><rect x="99.7" y="396" width="1" height="1"/><rect x="104.7" y="396" width="1" height="1"/><rect x="109.7" y="396" width="1" height="1"/><rect x="114.7" y="396" width="1" height="1"/><rect x="119.7" y="396" width="1" height="1"/><rect x="124.7" y="396" width="1" height="1"/><rect x="129.7" y="396" width="1" height="1"/><rect x="134.7" y="396" width="1" height="1"/><rect x="139.7" y="396" width="1" height="1"/><rect x="144.7" y="396" width="1" height="1"/><rect x="149.7" y="396" width="1" height="1"/><rect x="154.7" y="396" width="1" height="1"/><rect x="159.7" y="396" width="1" height="1"/><rect x="164.7" y="396" width="1" height="1"/><rect x="169.7" y="396" width="1" height="1"/><rect x="174.7" y="396" width="1" height="1"/><rect x="179.7" y="396" width="1" height="1"/><rect x="184.7" y="396" width="1" height="1"/><rect x="189.7" y="396" width="1" height="1"/><rect x="194.7" y="396" width="1" height="1"/><rect x="199.7" y="396" width="1" height="1"/><rect x="204.7" y="396" width="1" height="1"/><rect x="209.7" y="396" width="1" height="1"/><rect x="214.7" y="396" width="1" height="1"/><rect x="219.7" y="396" width="1" height="1"/><rect x="224.7" y="396" width="1" height="1"/><rect x="229.7" y="396" width="1" height="1"/><rect x="234.7" y="396" width="1" height="1"/><rect x="239.7" y="396" width="1" height="1"/><rect x="244.7" y="396" width="1" height="1"/><rect x="249.7" y="396" width="1" height="1"/><rect x="254.7" y="396" width="1" height="1"/><rect x="259.7" y="396" width="1" height="1"/><rect x="264.7" y="396" width="1" height="1"/><rect x="269.7" y="396" width="1" height="1"/><rect x="274.7" y="396" width="1" height="1"/><rect x="279.7" y="396" width="1" height="1"/><rect x="284.7" y="396" width="1" height="1"/><rect x="289.7" y="396" width="1" height="1"/><rect x="294.7" y="396" width="1" height="1"/><rect x="299.7" y="396" width="1" height="1"/><rect x="304.7" y="396" width="1" height="1"/><rect x="309.7" y="396" width="1" height="1"/><rect x="314.7" y="396" width="1" height="1"/><rect x="319.7" y="396" width="1" height="1"/><rect x="324.7" y="396" width="1" height="1"/><rect x="329.7" y="396" width="1" height="1"/><rect x="334.7" y="396" width="1" height="1"/><rect x="339.7" y="396" width="1" height="1"/><rect x="344.7" y="396" width="1" height="1"/><rect x="349.7" y="396" width="1" height="1"/><rect x="354.7" y="396" width="1" height="1"/><rect x="359.7" y="396" width="1" height="1"/><rect x="364.7" y="396" width="1" height="1"/><rect x="369.7" y="396" width="1" height="1"/><rect x="374.7" y="396" width="1" height="1"/><rect x="379.7" y="396" width="1" height="1"/><rect x="384.7" y="396" width="1" height="1"/><rect x="389.7" y="396" width="1" height="1"/><rect x="394.7" y="396" width="1" height="1"/><rect x="399.7" y="396" width="1" height="1"/><rect x="404.7" y="396" width="1" height="1"/><rect x="409.7" y="396" width="1" height="1"/><rect x="414.7" y="396" width="1" height="1"/><rect x="419.7" y="396" width="1" height="1"/><rect x="424.7" y="396" width="1" height="1"/><rect x="429.7" y="396" width="1" height="1"/><rect x="434.7" y="396" width="1" height="1"/><rect x="439.7" y="396" width="1" height="1"/><rect x="444.7" y="396" width="1" height="1"/><rect x="449.7" y="396" width="1" height="1"/><rect x="454.7" y="396" width="1" height="1"/><rect x="459.7" y="396" width="1" height="1"/><rect x="464.7" y="396" width="1" height="1"/><rect x="469.7" y="396" width="1" height="1"/><rect x="474.7" y="396" width="1" height="1"/><rect x="479.7" y="396" width="1" height="1"/><rect x="484.7" y="396" width="1" height="1"/><rect x="489.7" y="396" width="1" height="1"/><rect x="494.7" y="396" width="1" height="1"/><rect x="499.7" y="396" width="1" height="1"/><rect x="504.7" y="396" width="1" height="1"/><rect x="509.7" y="396" width="1" height="1"/><rect x="514.7" y="396" width="1" height="1"/><rect x="519.7" y="396" width="1" height="1"/><rect x="524.7" y="396" width="1" height="1"/><rect x="529.7" y="396" width="1" height="1"/><rect x="534.7" y="396" width="1" height="1"/><rect x="539.7" y="396" width="1" height="1"/><rect x="544.7" y="396" width="1" height="1"/><rect x="549.7" y="396" width="1" height="1"/><rect x="554.7" y="396" width="1" height="1"/><rect x="559.7" y="396" width="1" height="1"/><rect x="564.7" y="396" width="1" height="1"/><rect x="569.7" y="396" width="1" height="1"/><rect x="574.7" y="396" width="1" height="1"/><rect x="579.7" y="396" width="1" height="1"/><rect x="584.7" y="396" width="1" height="1"/><rect x="589.7" y="396" width="1" height="1"/><rect x="594.7" y="396" width="1" height="1"/><rect x="599.7" y="396" width="1" height="1"/><rect x="604.7" y="396" width="1" height="1"/><rect x="609.7" y="396" width="1" height="1"/><rect x="614.7" y="396" width="1" height="1"/><rect x="619.7" y="396" width="1" height="1"/><rect x="624.7" y="396" width="1" height="1"/><rect x="629.7" y="396" width="1" height="1"/><rect x="634.7" y="396" width="1" height="1"/><rect x="639.7" y="396" width="1" height="1"/><rect x="644.7" y="396" width="1" height="1"/><rect x="649.7" y="396" width="1" height="1"/><rect x="654.7" y="396" width="1" height="1"/><rect x="659.7" y="396" width="1" height="1"/><rect x="664.7" y="396" width="1" height="1"/><rect x="669.7" y="396" width="1" height="1"/><rect x="674.7" y="396" width="1" height="1"/><rect x="679.7" y="396" width="1" height="1"/><rect x="684.7" y="396" width="1" height="1"/><rect x="689.7" y="396" width="1" height="1"/><rect x="694.7" y="396" width="1" height="1"/><rect x="699.7" y="396" width="1" height="1"/><rect x="704.7" y="396" width="1" height="1"/><rect x="709.7" y="396" width="1" height="1"/><rect x="714.7" y="396" width="1" height="1"/><rect x="719.7" y="396" width="1" height="1"/><rect x="724.7" y="396" width="1" height="1"/><rect x="729.7" y="396" width="1" height="1"/><rect x="734.7" y="396" width="1" height="1"/><rect x="739.7" y="396" width="1" height="1"/><rect x="744.7" y="396" width="1" height="1"/><rect x="749.7" y="396" width="1" height="1"/><rect x="754.7" y="396" width="1" height="1"/><rect x="759.7" y="396" width="1" height="1"/><rect x="764.7" y="396" width="1" height="1"/><rect x="769.7" y="396" width="1" height="1"/><rect x="774.7" y="396" width="1" height="1"/><rect x="779.7" y="396" width="1" height="1"/><rect x="784.7" y="396" width="1" height="1"/><rect x="789.7" y="396" width="1" height="1"/><rect x="794.7" y="396" width="1" height="1"/><rect x="799.7" y="396" width="1" height="1"/><rect x="804.7" y="396" width="1" height="1"/><rect x="809.7" y="396" width="1" height="1"/><rect x="814.7" y="396" width="1" height="1"/><rect x="819.7" y="396" width="1" height="1"/><rect x="824.7" y="396" width="1" height="1"/><rect x="829.7" y="396" width="1" height="1"/><rect x="834.7" y="396" width="1" height="1"/><rect x="839.7" y="396" width="1" height="1"/><rect x="844.7" y="396" width="1" height="1"/><rect x="849.7" y="396" width="1" height="1"/><rect x="854.7" y="396" width="1" height="1"/><rect x="859.7" y="396" width="1" height="1"/></g>
<g fill="none" stroke-width="2.5" stroke-linejoin="round" stroke-linecap="round">
<path d="M13.5,395.9 L20.0,396.6 L28.6,396.9 L32.7,399.2 L35.4,398.1 L39.5,396.2 L42.3,392.4 L45.4,391.1 L49.1,393.5 L51.9,394.2 L55.3,386.3 L57.7,383.4" stroke="#16c784" clip-path="url(#cu)" opacity="0.11"/>
<path d="M13.5,395.9 L20.0,396.6 L28.6,396.9 L32.7,399.2 L35.4,398.1 L39.5,396.2 L42.3,392.4 L45.4,391.1 L49.1,393.5 L51.9,394.2 L55.3,386.3 L57.7,383.4" stroke="#ea3943" clip-path="url(#cd)" opacity="0.11"/>
<path d="M57.7,383.4 L60.6,383.7 L63.7,386.3 L66.6,384.3 L69.7,386.8 L73.1,391.1 L75.7,394.5 L78.3,396.3 L81.2,397.5 L84.3,395.9 L86.8,393.7 L89.7,386.3 L92.5,386.8 L95.4,382.5 L98.8,387.3 L101.4,389.1 L104.5,387.7 L108.2,383.4 L111.3,382.0 L113.7,382.5 L116.5,380.8 L119.4,380.3 L121.9,381.7 L125.4,385.6 L128.5,382.5 L130.9,382.0 L133.9,382.5 L137.0,384.3 L140.4,382.9 L148.0,382.9 L151.9,387.2 L156.2,384.8 L160.5,382.2 L163.9,383.6 L166.5,383.9 L170.8,380.8 L174.7,375.4 L177.6,377.4 L180.5,376.9 L184.5,381.2 L189.6,382.9 L192.2,377.4 L195.3,376.2 L198.2,369.7 L201.1,368.0 L204.3,369.7 L206.9,368.7 L209.4,369.7 L212.8,373.2 L215.8,375.9 L218.5,376.3 L221.4,378.8 L224.8,376.6 L227.4,375.2 L230.3,381.0 L235.1,381.0 L238.5,382.2 L242.0,384.3 L245.1,383.1 L248.0,385.2 L251.4,386.5 L254.5,386.5 L257.4,386.2 L262.5,387.4 L265.4,383.1 L268.5,381.4 L271.1,378.0 L274.5,372.0 L277.1,369.1 L279.7,369.4 L283.1,372.3 L286.2,370.3 L288.7,370.3 L292.2,373.7 L295.1,373.2 L297.6,372.0 L300.7,365.1 L303.3,350.0 L306.2,348.8 L308.8,351.9 L312.2,357.1 L315.6,356.2 L318.2,360.8 L321.1,356.0 L324.2,357.4 L327.6,359.6 L330.2,361.2 L332.8,361.7 L335.3,365.5 L338.4,367.7 L341.3,363.7 L344.8,361.7 L348.2,360.0 L350.0,358.9 L354.0,353.8 L357.4,348.7 L360.1,346.7 L362.1,346.4 L364.8,348.7 L367.8,343.1 L370.2,348.5 L373.6,354.5 L376.6,358.1 L379.3,355.5 L382.3,357.9 L385.3,359.0 L388.4,359.6 L391.0,353.2 L393.7,349.8 L397.1,346.8 L400.1,352.5 L402.9,345.8 L405.6,354.1 L408.1,345.1 L411.2,340.4 L414.6,339.0 L417.3,342.4 L420.7,347.4 L423.4,343.7 L426.0,335.9 L429.4,337.4 L432.1,326.2 L435.1,318.4 L438.8,320.5 L443.4,322.3 L447.0,324.5 L449.0,320.1 L450.7,310.5 L452.3,298.0 L455.1,295.4 L458.5,299.3 L461.1,288.3 L464.1,292.8 L466.9,290.3 L470.1,285.3 L473.1,286.6 L475.9,285.1 L478.7,283.9 L481.7,286.7 L484.9,287.8 L486.5,291.5 L488.2,296.5 L489.3,309.4 L490.5,322.9 L491.6,327.3 L493.8,334.1 L496.6,336.8 L499.4,335.4 L502.3,352.7 L505.3,331.8 L508.6,336.0 L511.6,340.3 L514.1,355.1 L516.8,350.4 L519.7,373.0 L522.7,379.6 L525.6,373.7 L528.6,373.4 L531.5,379.2 L534.5,351.4 L537.4,365.8 L542.6,361.2 L546.3,357.7 L549.2,365.8 L552.0,377.3 L555.0,378.3 L557.7,377.4 L560.6,386.7 L563.5,384.7 L566.8,376.9 L572.0,359.9 L575.3,353.1 L578.3,354.4 L581.2,347.2 L584.1,347.4 L587.1,357.2 L590.1,360.1 L592.9,358.9 L596.6,355.7 L599.2,354.2 L601.5,355.3 L604.5,365.4 L607.3,367.1 L610.4,371.0 L613.2,366.4 L616.5,363.1 L619.5,360.5 L622.1,361.2 L625.0,374.0 L628.0,371.9 L630.9,366.1 L633.9,367.3 L636.8,361.6 L639.8,357.5 L642.9,358.9 L645.7,357.9 L648.6,352.7 L651.6,351.4 L654.5,357.2 L657.5,358.6 L660.3,360.5 L663.0,369.0 L666.2,373.6 L669.2,378.2 L671.5,392.6 L674.8,401.7 L678.1,410.2 L680.7,415.5 L684.0,408.9 L686.6,405.6 L687.9,396.5 L689.5,383.0 L692.5,397.8 L695.1,391.9 L698.4,380.4 L701.0,379.9 L704.0,385.1 L706.9,384.0 L709.9,385.0 L712.8,382.3 L715.8,380.1 L718.7,372.3 L721.6,361.8 L724.6,359.2 L727.6,361.8 L730.5,366.4 L733.1,367.9 L736.4,370.9 L737.4,395.8 L739.2,424.8 L741.9,424.0 L745.1,438.6 L747.9,413.7 L750.6,410.0 L753.8,406.3 L756.7,408.4 L759.4,402.9 L762.5,406.0 L765.7,397.3 L768.9,394.1 L771.2,389.8 L772.6,382.0 L774.7,354.4 L777.0,330.2 L779.9,340.9 L782.9,364.8 L785.9,376.1 L788.6,376.8 L791.6,352.9 L794.4,360.7 L797.1,345.9 L800.4,350.3 L803.1,343.2 L806.4,339.1 L809.1,345.4 L812.1,346.9 L816.6,351.7 L821.1,355.6 L826.6,361.9 L832.3,358.6 L835.0,359.2 L838.2,358.1 L844.2,359.6 L849.0,376.1" stroke="#16c784" clip-path="url(#cu)"/>
<path d="M57.7,383.4 L60.6,383.7 L63.7,386.3 L66.6,384.3 L69.7,386.8 L73.1,391.1 L75.7,394.5 L78.3,396.3 L81.2,397.5 L84.3,395.9 L86.8,393.7 L89.7,386.3 L92.5,386.8 L95.4,382.5 L98.8,387.3 L101.4,389.1 L104.5,387.7 L108.2,383.4 L111.3,382.0 L113.7,382.5 L116.5,380.8 L119.4,380.3 L121.9,381.7 L125.4,385.6 L128.5,382.5 L130.9,382.0 L133.9,382.5 L137.0,384.3 L140.4,382.9 L148.0,382.9 L151.9,387.2 L156.2,384.8 L160.5,382.2 L163.9,383.6 L166.5,383.9 L170.8,380.8 L174.7,375.4 L177.6,377.4 L180.5,376.9 L184.5,381.2 L189.6,382.9 L192.2,377.4 L195.3,376.2 L198.2,369.7 L201.1,368.0 L204.3,369.7 L206.9,368.7 L209.4,369.7 L212.8,373.2 L215.8,375.9 L218.5,376.3 L221.4,378.8 L224.8,376.6 L227.4,375.2 L230.3,381.0 L235.1,381.0 L238.5,382.2 L242.0,384.3 L245.1,383.1 L248.0,385.2 L251.4,386.5 L254.5,386.5 L257.4,386.2 L262.5,387.4 L265.4,383.1 L268.5,381.4 L271.1,378.0 L274.5,372.0 L277.1,369.1 L279.7,369.4 L283.1,372.3 L286.2,370.3 L288.7,370.3 L292.2,373.7 L295.1,373.2 L297.6,372.0 L300.7,365.1 L303.3,350.0 L306.2,348.8 L308.8,351.9 L312.2,357.1 L315.6,356.2 L318.2,360.8 L321.1,356.0 L324.2,357.4 L327.6,359.6 L330.2,361.2 L332.8,361.7 L335.3,365.5 L338.4,367.7 L341.3,363.7 L344.8,361.7 L348.2,360.0 L350.0,358.9 L354.0,353.8 L357.4,348.7 L360.1,346.7 L362.1,346.4 L364.8,348.7 L367.8,343.1 L370.2,348.5 L373.6,354.5 L376.6,358.1 L379.3,355.5 L382.3,357.9 L385.3,359.0 L388.4,359.6 L391.0,353.2 L393.7,349.8 L397.1,346.8 L400.1,352.5 L402.9,345.8 L405.6,354.1 L408.1,345.1 L411.2,340.4 L414.6,339.0 L417.3,342.4 L420.7,347.4 L423.4,343.7 L426.0,335.9 L429.4,337.4 L432.1,326.2 L435.1,318.4 L438.8,320.5 L443.4,322.3 L447.0,324.5 L449.0,320.1 L450.7,310.5 L452.3,298.0 L455.1,295.4 L458.5,299.3 L461.1,288.3 L464.1,292.8 L466.9,290.3 L470.1,285.3 L473.1,286.6 L475.9,285.1 L478.7,283.9 L481.7,286.7 L484.9,287.8 L486.5,291.5 L488.2,296.5 L489.3,309.4 L490.5,322.9 L491.6,327.3 L493.8,334.1 L496.6,336.8 L499.4,335.4 L502.3,352.7 L505.3,331.8 L508.6,336.0 L511.6,340.3 L514.1,355.1 L516.8,350.4 L519.7,373.0 L522.7,379.6 L525.6,373.7 L528.6,373.4 L531.5,379.2 L534.5,351.4 L537.4,365.8 L542.6,361.2 L546.3,357.7 L549.2,365.8 L552.0,377.3 L555.0,378.3 L557.7,377.4 L560.6,386.7 L563.5,384.7 L566.8,376.9 L572.0,359.9 L575.3,353.1 L578.3,354.4 L581.2,347.2 L584.1,347.4 L587.1,357.2 L590.1,360.1 L592.9,358.9 L596.6,355.7 L599.2,354.2 L601.5,355.3 L604.5,365.4 L607.3,367.1 L610.4,371.0 L613.2,366.4 L616.5,363.1 L619.5,360.5 L622.1,361.2 L625.0,374.0 L628.0,371.9 L630.9,366.1 L633.9,367.3 L636.8,361.6 L639.8,357.5 L642.9,358.9 L645.7,357.9 L648.6,352.7 L651.6,351.4 L654.5,357.2 L657.5,358.6 L660.3,360.5 L663.0,369.0 L666.2,373.6 L669.2,378.2 L671.5,392.6 L674.8,401.7 L678.1,410.2 L680.7,415.5 L684.0,408.9 L686.6,405.6 L687.9,396.5 L689.5,383.0 L692.5,397.8 L695.1,391.9 L698.4,380.4 L701.0,379.9 L704.0,385.1 L706.9,384.0 L709.9,385.0 L712.8,382.3 L715.8,380.1 L718.7,372.3 L721.6,361.8 L724.6,359.2 L727.6,361.8 L730.5,366.4 L733.1,367.9 L736.4,370.9 L737.4,395.8 L739.2,424.8 L741.9,424.0 L745.1,438.6 L747.9,413.7 L750.6,410.0 L753.8,406.3 L756.7,408.4 L759.4,402.9 L762.5,406.0 L765.7,397.3 L768.9,394.1 L771.2,389.8 L772.6,382.0 L774.7,354.4 L777.0,330.2 L779.9,340.9 L782.9,364.8 L785.9,376.1 L788.6,376.8 L791.6,352.9 L794.4,360.7 L797.1,345.9 L800.4,350.3 L803.1,343.2 L806.4,339.1 L809.1,345.4 L812.1,346.9 L816.6,351.7 L821.1,355.6 L826.6,361.9 L832.3,358.6 L835.0,359.2 L838.2,358.1 L844.2,359.6 L849.0,376.1" stroke="#ea3943" clip-path="url(#cd)"/>
</g>
<circle cx="849" cy="376.4" r="6" fill="#16c784"/>
<rect x="866" y="365" width="59" height="25" fill="#16c784"/>
</svg>
<div class="abs ax" style="left:19.6px;top:390.4px;color:#58667e">3,744</div>
<div class="abs ax" style="left:874.5px;top:265px;color:#58667e;letter-spacing:0.25px">3,936</div>
<div class="abs ax" style="left:877.4px;top:295.8px">3,900</div>
<div class="abs ax" style="left:877.4px;top:354.2px">3,800</div>
<div class="abs ax" style="left:877.4px;top:412.7px">3,700</div>
<div class="abs ax" style="left:877.4px;top:458.8px;color:#58667e">3,671</div>
<div class="abs ax" style="left:877.4px;top:471px">3,600</div>
<div class="abs" style="left:866px;top:365px;width:59px;height:25px;background:#16c784"></div>
<div class="abs ax" style="left:877.4px;top:368.8px;color:#fff;-webkit-text-stroke:0.55px #fff">3,776</div>
<div class="abs xl" style="left:64px">9:00 PM</div>
<div class="abs xl" style="left:169px;font-weight:700">23</div>
<div class="abs xl" style="left:275px">3:00 AM</div>
<div class="abs xl" style="left:380px">6:00 AM</div>
<div class="abs xl" style="left:485px">9:00 AM</div>
<div class="abs xl" style="left:590px">12:00 PM</div>
<div class="abs xl" style="left:695px">3:00 PM</div>
<div class="abs" style="left:786px;top:510px;width:80px;height:25px;overflow:hidden"><div class="abs xl" style="left:14.5px;top:6.4px">6:00 PM</div></div>
</body></html>
